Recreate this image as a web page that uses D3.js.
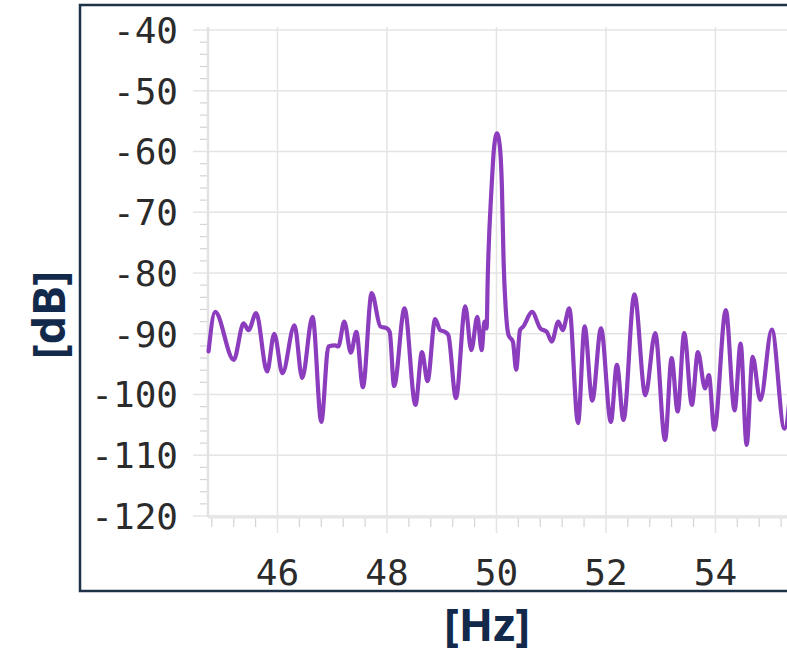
<!DOCTYPE html>
<html>
<head>
<meta charset="utf-8">
<script src="https://cdn.jsdelivr.net/npm/d3@7"></script>
<style>
  html, body { margin: 0; padding: 0; background: #ffffff; }
  svg { display: block; }
</style>
</head>
<body>
<svg id="chart" width="787" height="653"></svg>
<script>
// Spectrum around the 50 Hz mains line
const freqHz = [
  44.74, 44.86, 45.20, 45.38, 45.47, 45.61, 45.81, 45.94, 46.09, 46.31,
  46.45, 46.64, 46.80, 46.93, 47.05, 47.11, 47.22, 47.34, 47.44, 47.56,
  47.72, 47.88, 48.00, 48.05, 48.13, 48.32, 48.52, 48.64, 48.74, 48.88,
  48.97, 49.06, 49.12, 49.26, 49.43, 49.54, 49.65, 49.73, 49.78, 49.82,
  49.84, 49.91, 49.96, 50.01, 50.06, 50.10, 50.13, 50.17, 50.22, 50.30,
  50.36, 50.43, 50.49, 50.65, 50.80, 50.92, 51.01, 51.13, 51.21, 51.33,
  51.49, 51.61, 51.75, 51.91, 52.09, 52.20, 52.32, 52.52, 52.72, 52.90,
  53.08, 53.20, 53.31, 53.43, 53.57, 53.68, 53.81, 53.88, 53.98, 54.19,
  54.35, 54.46, 54.57, 54.68, 54.82, 55.03, 55.26, 55.40
];
const levelDb = [
  -92.9, -86.4, -94.3, -88.3, -89.4, -86.6, -96.2, -90.0, -96.5, -88.6,
  -97.3, -87.2, -104.5, -92.1, -91.9, -92.1, -88.0, -93.1, -89.7, -98.8,
  -83.3, -88.8, -89.1, -89.7, -98.6, -85.8, -101.7, -93.0, -97.8, -87.6,
  -89.4, -89.7, -90.2, -100.6, -85.5, -92.7, -87.2, -92.7, -88.0, -89.1,
  -81.0, -66.0, -59.0, -57.0, -59.0, -66.0, -78.0, -86.0, -90.2, -91.3,
  -95.9, -89.4, -88.8, -86.4, -89.1, -89.7, -91.3, -88.0, -89.4, -85.8,
  -104.7, -88.8, -101.0, -89.1, -104.5, -95.1, -104.2, -83.5, -100.1, -89.9,
  -107.5, -94.0, -102.8, -89.9, -101.7, -93.0, -99.0, -96.8, -105.8, -86.1,
  -102.6, -91.6, -108.3, -93.8, -100.9, -89.3, -105.6, -96.0
];

const yMajorTicks = [-120, -110, -100, -90, -80, -70, -60, -50, -40];
const xMajorTicks = [46, 48, 50, 52, 54];
const xTitle = "[Hz]";
const yTitle = "[dB]";

const svg = d3.select("#chart");

const plotLeft = 208, plotTop = 27, plotBottom = 516;
const x = d3.scaleLinear().domain([44.73, 55.6]).range([plotLeft, 803]);
const y = d3.scaleLinear().domain([-120, -39.5]).range([plotBottom, plotTop]);

const gridColor = "#e4e4e4";
const tickColor = "#d4d4d4";
const navy = "#13294b";

// outer frame
svg.append("rect")
  .attr("x", 80).attr("y", 5)
  .attr("width", 800).attr("height", 586)
  .attr("fill", "none")
  .attr("stroke", "#1d3247")
  .attr("stroke-width", 2.5);

// minor ticks
const yMinor = d3.range(-120, -39, 2).filter(v => v % 10 !== 0);
svg.append("g").selectAll("line").data(yMinor).join("line")
  .attr("x1", plotLeft - 8).attr("x2", plotLeft)
  .attr("y1", d => y(d)).attr("y2", d => y(d))
  .attr("stroke", tickColor).attr("stroke-width", 1.2);

const xMinor = d3.range(0, 28).map(i => +(44.8 + i * 0.4).toFixed(1))
  .filter(v => Math.abs(v / 2 - Math.round(v / 2)) > 1e-6);
svg.append("g").selectAll("line").data(xMinor).join("line")
  .attr("x1", d => x(d)).attr("x2", d => x(d))
  .attr("y1", plotBottom).attr("y2", plotBottom + 11)
  .attr("stroke", tickColor).attr("stroke-width", 1.2);

// major gridlines (extending out as ticks)
svg.append("g").selectAll("line").data(yMajorTicks).join("line")
  .attr("x1", plotLeft - 15).attr("x2", 800)
  .attr("y1", d => y(d)).attr("y2", d => y(d))
  .attr("stroke", gridColor).attr("stroke-width", 1.5);

svg.append("g").selectAll("line").data(xMajorTicks).join("line")
  .attr("x1", d => x(d)).attr("x2", d => x(d))
  .attr("y1", plotTop).attr("y2", plotBottom + 17)
  .attr("stroke", gridColor).attr("stroke-width", 1.5);

// axis lines
svg.append("line")
  .attr("x1", plotLeft).attr("x2", plotLeft)
  .attr("y1", plotTop).attr("y2", plotBottom + 1)
  .attr("stroke", "#e2e2e2").attr("stroke-width", 2.5);
svg.append("line")
  .attr("x1", plotLeft).attr("x2", 800)
  .attr("y1", plotBottom + 1).attr("y2", plotBottom + 1)
  .attr("stroke", "#e6e6e6").attr("stroke-width", 3);

// tick labels
const tickFont = "'DejaVu Sans Mono', monospace";
svg.append("g").selectAll("text").data(yMajorTicks).join("text")
  .attr("x", 178).attr("y", d => y(d))
  .attr("dy", "0.36em")
  .attr("text-anchor", "end")
  .attr("font-family", tickFont).attr("font-size", 36)
  .attr("fill", "#2b2b2b")
  .text(d => d);

svg.append("g").selectAll("text").data(xMajorTicks).join("text")
  .attr("x", d => x(d)).attr("y", 585)
  .attr("text-anchor", "middle")
  .attr("font-family", tickFont).attr("font-size", 36)
  .attr("fill", "#2b2b2b")
  .text(d => d);

// spectrum line
const pts = freqHz.map((f, i) => [f, levelDb[i]]);
const line = d3.line()
  .x(d => x(d[0]))
  .y(d => y(d[1]))
  .curve(d3.curveMonotoneX);
svg.append("path")
  .datum(pts)
  .attr("d", line)
  .attr("fill", "none")
  .attr("stroke", "#8b3dbd")
  .attr("stroke-width", 4.2)
  .attr("stroke-linejoin", "round")
  .attr("stroke-linecap", "round");

// axis titles
svg.append("text")
  .attr("x", 487).attr("y", 641)
  .attr("text-anchor", "middle")
  .attr("font-family", "'Open Sans', 'Noto Sans', sans-serif")
  .attr("font-weight", 700).attr("font-size", 45)
  .attr("fill", navy)
  .text(xTitle);

svg.append("text")
  .attr("transform", "translate(65,315) rotate(-90)")
  .attr("text-anchor", "middle")
  .attr("font-family", "'Open Sans', 'Noto Sans', sans-serif")
  .attr("font-weight", 700).attr("font-size", 45)
  .attr("fill", navy)
  .text(yTitle);
</script>
</body>
</html>
